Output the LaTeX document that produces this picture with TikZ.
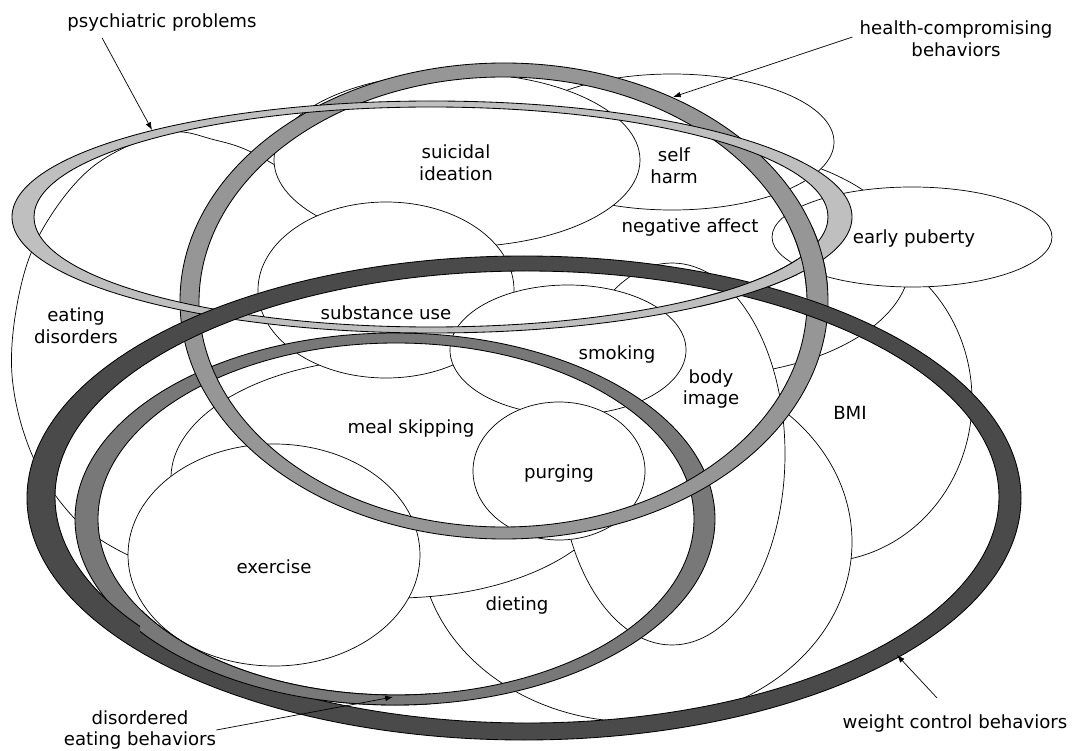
\documentclass[tikz,border=0pt]{standalone}
\usepackage{fontspec}
\setmainfont{DejaVu Sans}
\usetikzlibrary{arrows.meta}

\definecolor{psychgray}{gray}{0.75}
\definecolor{healthgray}{gray}{0.59}
\definecolor{eatgray}{gray}{0.47}
\definecolor{weightgray}{gray}{0.29}

\tikzset{
  blob/.style={draw, fill=white, line width=0.5pt},
  ring/.style={draw, even odd rule, line width=0.6pt},
  lbl/.style={align=center, inner sep=0pt, font=\fontsize{12.9}{15.6}\selectfont},
  pointer/.style={->, line width=0.5pt},
}

\begin{document}
\begin{tikzpicture}[x=0.25mm, y=-0.25mm, >={Latex[length=5.5pt,width=4pt]}]
\useasboundingbox (0,0) rectangle (1072,751);

% the areas, back to front
\draw[blob] plot[smooth cycle, tension=0.6] coordinates {(166,133) (215,140) (255,154) (300,185) (350,250) (385,340) (360,420) (300,500) (220,545) (160,560) (128,555) (76,520) (33,457) (12,375) (20,290) (45,225) (95,165)}; % eating disorders
\draw[blob] (820,400) ellipse [x radius=152, y radius=162]; % BMI
\draw[blob] (636,542) ellipse [x radius=216, y radius=180]; % dieting
\draw[blob] (700,262) ellipse [x radius=210, y radius=114]; % negative affect
\draw[blob] (672,142) ellipse [x radius=162, y radius=68];  % self harm
\draw[blob] (457,160) ellipse [x radius=183, y radius=87];  % suicidal ideation
\draw[blob] (395,478) ellipse [x radius=224, y radius=120]; % meal skipping
\draw[blob] (386,290) ellipse [x radius=128, y radius=88];  % substance use
\draw[blob] (274,555) ellipse [x radius=146, y radius=111]; % exercise
\draw[blob] (912,237) ellipse [x radius=140, y radius=50];  % early puberty
\draw[blob] (672,454) ellipse [x radius=113, y radius=191]; % body image
\draw[blob] (568,350) ellipse [x radius=118, y radius=65];  % smoking
\draw[blob] (559,471) ellipse [x radius=86, y radius=69];   % purging

% rings
\draw[ring, fill=eatgray] (395,519) ellipse [x radius=320, y radius=186] (396,519) ellipse [x radius=298, y radius=176];
\draw[ring, fill=healthgray] (504,301) ellipse [x radius=324, y radius=238] (503,302) ellipse [x radius=304, y radius=225];
\draw[ring, fill=psychgray] (432,217) ellipse [x radius=420, y radius=116] (431,217) ellipse [x radius=397, y radius=110];
\draw[ring, fill=weightgray] (524,498) ellipse [x radius=497, y radius=242] (527,497) ellipse [x radius=472, y radius=226];

% interlocking crossings
\begin{scope}
  \clip (700,245) rectangle (797,320);
  \draw[ring, fill=psychgray] (432,217) ellipse [x radius=420, y radius=116] (431,217) ellipse [x radius=397, y radius=110];
\end{scope}
\begin{scope}
  \clip (790,228) rectangle (840,288);
  \draw[ring, fill=healthgray] (504,301) ellipse [x radius=324, y radius=238] (503,302) ellipse [x radius=304, y radius=225];
\end{scope}
\begin{scope}
  \clip (140,610) rectangle (430,751);
  \draw[ring, fill=eatgray] (395,519) ellipse [x radius=320, y radius=186] (396,519) ellipse [x radius=298, y radius=176];
\end{scope}

% labels
\node[lbl] (lblSI) at (456,163) {suicidal\\ideation};
\node[lbl] (lblSH) at (674,166) {self\\harm};
\node[lbl] (lblNA) at (690,227) {negative affect};
\node[lbl] (lblEP) at (914,238) {early puberty};
\node[lbl] (lblED) at (76,326) {eating\\disorders};
\node[lbl] (lblSU) at (386,313) {substance use};
\node[lbl] (lblSM) at (617,354) {smoking};
\node[lbl] (lblBI) at (711,389) {body\\image};
\node[lbl] (lblBMI) at (850,413) {BMI};
\node[lbl] (lblMS) at (411,428) {meal skipping};
\node[lbl] (lblPU) at (559,473) {purging};
\node[lbl] (lblEX) at (274,567) {exercise};
\node[lbl] (lblDI) at (517,605) {dieting};

\node[lbl] (lblP) at (162,23) {psychiatric problems};
\node[lbl] (lblH) at (956,39) {health-compromising\\behaviors};
\node[lbl] (lblD) at (140,730) {disordered\\eating behaviors};
\node[lbl] (lblW) at (955,723) {weight control behaviors};

% pointers
\coordinate (tipP) at (152,130);
\coordinate (tipH) at (673,97);
\coordinate (tipD) at (393,697);
\coordinate (tipW) at (897,655);
\draw[pointer] ([shift={(35,6)}]lblP.south west) -- (tipP);
\draw[pointer] ([shift={(-7,-2)}]lblH.west) -- (tipH);
\draw[pointer] (lblD.east) -- (tipD);
\draw[pointer] ([shift={(-18,-16)}]lblW.north) -- (tipW);
\end{tikzpicture}
\end{document}
